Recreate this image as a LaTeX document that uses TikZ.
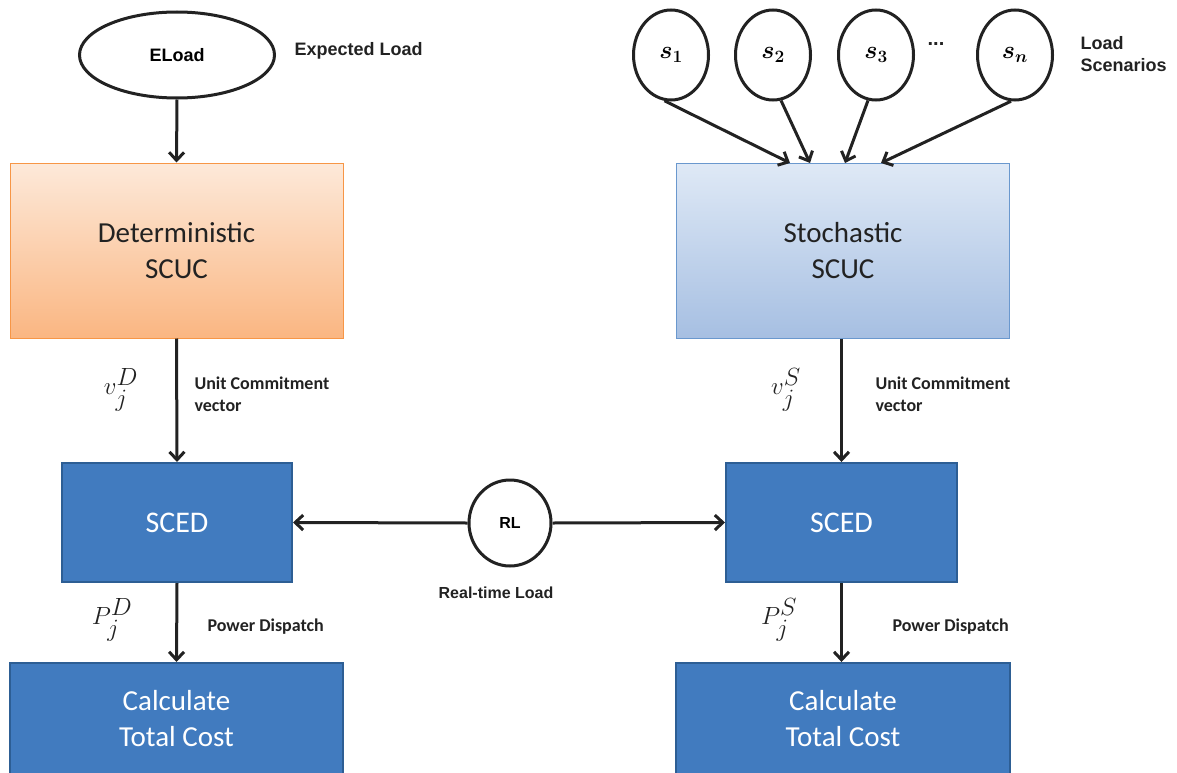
\documentclass[tikz,border=0pt]{standalone}
\usepackage{amsmath}
\usepackage{fontspec}
\setmainfont{Carlito}
\newfontfamily\arialb{Liberation Sans}
\usetikzlibrary{arrows.meta,shapes.geometric}
\definecolor{orTop}{HTML}{FDE9D9}
\definecolor{orBot}{HTML}{FAB682}
\definecolor{orLine}{HTML}{F79646}
\definecolor{ltTop}{HTML}{DFE9F6}
\definecolor{ltBot}{HTML}{A6BFE2}
\definecolor{ltLine}{HTML}{6A98CE}
\definecolor{dkFill}{HTML}{417BBF}
\definecolor{dkLine}{HTML}{2D5E94}
\definecolor{ink}{HTML}{222222}
\tikzset{
  arr/.style={line width=3pt, draw=ink, -{Straight Barb[length=8pt,width=15pt,line width=3pt]}},
  big/.style={font=\fontsize{29}{36}\selectfont},
  scuc/.style={rectangle, minimum width=333pt, minimum height=175pt, inner sep=0pt,
    align=center, big, text=ink, line width=1pt},
  detbox/.style={scuc, draw=orLine, top color=orTop, bottom color=orBot},
  stobox/.style={scuc, draw=ltLine, top color=ltTop, bottom color=ltBot},
  dkbox/.style={rectangle, fill=dkFill, draw=dkLine, line width=2pt, inner sep=0pt,
    align=center, text=white},
  oval/.style={ellipse, draw=ink, line width=3pt, fill=white, inner sep=0pt},
  lbl/.style={font=\arialb\bfseries\fontsize{18}{22}\selectfont, text=ink, align=left},
  cal/.style={font=\bfseries\fontsize{18}{22}\selectfont, text=ink, align=left},
  mth/.style={font=\fontsize{33}{36}\selectfont, text=ink, inner sep=1pt},
}
\begin{document}
\begin{tikzpicture}[x=1pt,y=-1pt]
\useasboundingbox (0,0) rectangle (1177,773);

% left chain: deterministic
\node[oval, minimum width=195pt, minimum height=86pt, font=\arialb\bfseries\fontsize{18}{20}\selectfont] (eload) at (177,55) {ELoad};
\node[lbl, anchor=west] (eltxt) at (291,51) {Expected Load};
\node[detbox] (det) at (176.5,250.5) {Deterministic\\SCUC};
\node[dkbox, minimum width=230pt, minimum height=119pt, font=\fontsize{30}{34}\selectfont] (scedL) at (177,522.5) {SCED};
\node[dkbox, minimum width=333pt, minimum height=130pt, anchor=north] (costL) at (176.5,662) {};
\node[text=white, align=center, big] (costLt) at (176.5,719) {Calculate\\Total Cost};

% right chain: stochastic
\foreach \n/\xx/\lab in {s1/671/1, s2/773/2, s3/876/3, sn/1015/n}{
  \node[oval, minimum width=75pt, minimum height=90pt, font=\fontsize{25}{28}\selectfont] (\n) at (\xx,55) {$\boldsymbol{s_{\lab}}$};
}
\node[font=\arialb\bfseries\fontsize{20}{22}\selectfont, text=ink] (dots) at (936,44) {...};
\node[lbl, anchor=west] (lstxt) at (1077,54) {Load\\Scenarios};
\node[stobox] (sto) at (843,250.5) {Stochastic\\SCUC};
\node[dkbox, minimum width=231pt, minimum height=119pt, font=\fontsize{30}{34}\selectfont] (scedR) at (841.5,522.5) {SCED};
\node[dkbox, minimum width=334pt, minimum height=130pt, anchor=north] (costR) at (843,662) {};
\node[text=white, align=center, big] (costRt) at (843,719) {Calculate\\Total Cost};

% real-time load
\node[oval, minimum width=82pt, minimum height=86pt, font=\arialb\bfseries\fontsize{16}{18}\selectfont] (rl) at (510,523) {RL};
\node[font=\arialb\bfseries\fontsize{16}{18}\selectfont, text=ink] (rltxt) at (496,593) {Real-time Load};

% flow labels
\node[mth] (vD) at (121,390) {$v_j^D$};
\node[cal, anchor=west] (ucL) at (191,394) {Unit Commitment\\vector};
\node[mth] (PD) at (112,620) {$P_j^D$};
\node[cal, anchor=west] (pdL) at (204,627) {Power Dispatch};
\node[mth] (vS) at (786,390) {$v_j^S$};
\node[cal, anchor=west] (ucR) at (872,394) {Unit Commitment\\vector};
\node[mth] (PS) at (779,620) {$P_j^S$};
\node[cal, anchor=west] (pdR) at (889,627) {Power Dispatch};

% connectors
\draw[arr] (eload.south) -- (det.north);
\draw[arr] (det.south) -- (scedL.north);
\draw[arr] (scedL.south) -- (costL.north);
\draw[arr] (sto.south -| scedR.north) -- (scedR.north);
\draw[arr] (scedR.south) -- (costR.north -| scedR.south);
\coordinate (t1) at (790,163);
\coordinate (t2) at (810,163);
\coordinate (t3) at (845,163);
\coordinate (t4) at (881,163);
\draw[arr] (s1.-98) -- (t1);
\draw[arr] (s2.-80) -- (t2);
\draw[arr] (s3.-100) -- (t3);
\draw[arr] (sn.-95) -- (t4);
\draw[arr] (rl.west) -- (scedL.east);
\draw[arr] (rl.east) -- (scedR.west);
\end{tikzpicture}
\end{document}
